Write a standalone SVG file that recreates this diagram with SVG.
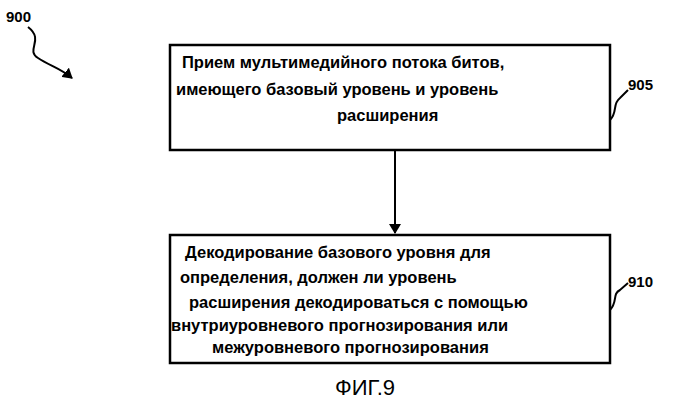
<svg xmlns="http://www.w3.org/2000/svg" width="700" height="405" viewBox="0 0 700 405">
<style>
.box{fill:#fff;stroke:#000;stroke-width:2.5}
.t{font-family:"Liberation Sans",Arial,sans-serif;font-size:16.5px;font-weight:bold;fill:#000}
.l{fill:none;stroke:#000;stroke-width:2}
</style>
<defs><marker id="a" markerWidth="10" markerHeight="12" refX="9" refY="6" orient="auto" markerUnits="userSpaceOnUse"><path d="M0,0 L10,6 L0,12 z" fill="#000"/></marker></defs>
<rect width="700" height="405" fill="#fff"/>
<g id="label900"><text class="t" x="6" y="22" style="font-size:15px">900</text></g>
<g id="n905"><rect class="box" x="170" y="45" width="440" height="105"/>
<text class="t" x="182" y="68">Прием мультимедийного потока битов,</text>
<text class="t" x="176" y="95">имеющего базовый уровень и уровень</text>
<text class="t" x="337" y="121">расширения</text>
<text class="t" x="628" y="90" style="font-size:15px">905</text></g>
<g id="n910"><rect class="box" x="170" y="235" width="440" height="128"/>
<text class="t" x="185" y="258">Декодирование базового уровня для</text>
<text class="t" x="180" y="283">определения, должен ли уровень</text>
<text class="t" x="189" y="308">расширения декодироваться с помощью</text>
<text class="t" x="171" y="331">внутриуровневого прогнозирования или</text>
<text class="t" x="212" y="353">межуровневого прогнозирования</text>
<text class="t" x="628" y="287" style="font-size:15px">910</text></g>
<g id="connectors">
<path class="l" d="M28,27 C45,40 25,50 38,58 C50,66 60,68 72,78" marker-end="url(#a)"/>
<line class="l" x1="395" y1="150" x2="395" y2="233" marker-end="url(#a)"/>
<path class="l" d="M610,120 C618,112 612,104 620,98 L628,90"/>
<path class="l" d="M610,310 C618,302 612,294 620,290 L628,283"/>
</g>
<text x="365" y="395" style="font-family:'Liberation Sans',Arial,sans-serif;font-size:22px" text-anchor="middle">ФИГ.9</text>
</svg>
